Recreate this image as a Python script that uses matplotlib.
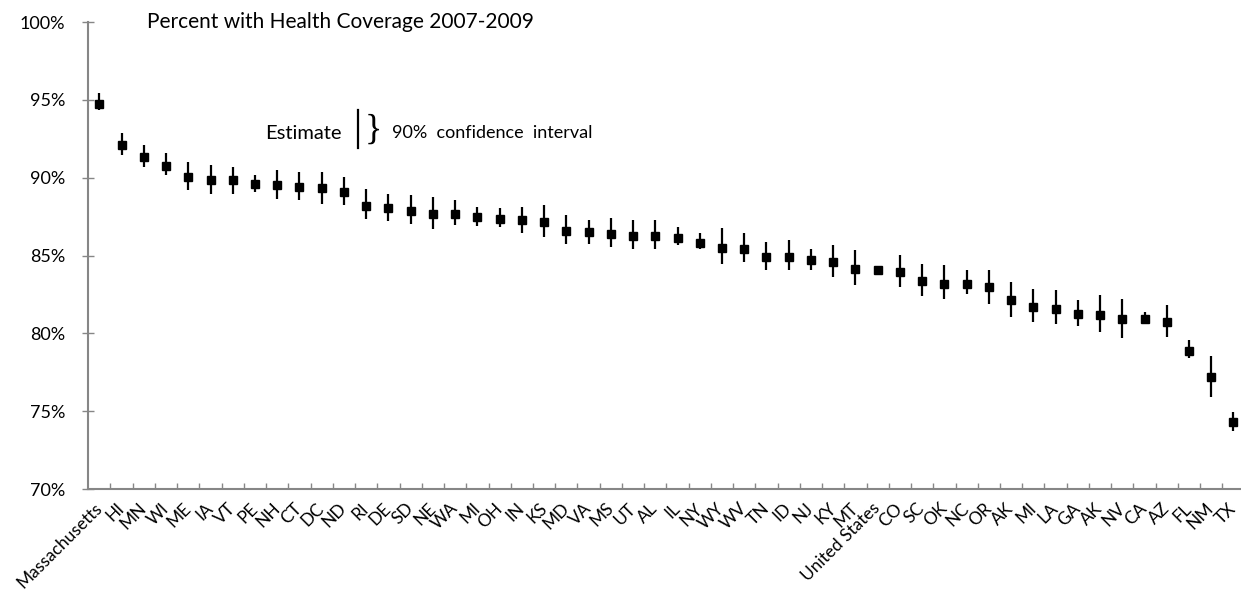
import matplotlib.pyplot as plt

#DATA:
States = ["Massachusetts", "HI", "MN", "WI", "ME", "IA", "VT", "PE", "NH", "CT",
          "DC", "ND", "RI", "DE", "SD", "NE", "WA", "MI", "OH", "IN",
          "KS", "MD", "VA", "MS", "UT", "AL", "IL", "NY", "WY", "WV",
          "TN", "ID", "NJ", "KY", "MT", "United States", "CO", "SC", "OK", "NC",
          "OR", "AK", "MI", "LA", "GA", "AK", "NV", "CA", "AZ", "FL",
          "NM", "TX"]
Estimate = [94.74, 92.12, 91.33, 90.75, 90.04, 89.83, 89.83, 89.62, 89.51, 89.40,
            89.34, 89.08, 88.19, 88.08, 87.87, 87.67, 87.67, 87.48, 87.37, 87.27,
            87.16, 86.60, 86.52, 86.41, 86.24, 86.24, 86.13, 85.83, 85.51, 85.43,
            84.92, 84.92, 84.72, 84.60, 84.17, 84.06, 83.95, 83.38, 83.19, 83.19,
            82.97, 82.16, 81.73, 81.56, 81.22, 81.18, 80.92, 80.92, 80.71, 78.89,
            77.22, 74.30]
Upper = [95.43, 92.87, 92.10, 91.58, 91.00, 90.80, 90.67, 90.15, 90.47, 90.37,
         90.37, 90.04, 89.28, 88.94, 88.87, 88.76, 88.57, 88.12, 88.06, 88.12,
         88.27, 87.59, 87.27, 87.42, 87.27, 87.27, 86.84, 86.45, 86.78, 86.45,
         85.88, 85.99, 85.41, 85.67, 85.35, 84.10, 85.03, 84.47, 84.38, 84.06,
         84.06, 83.31, 82.85, 82.78, 82.14, 82.46, 82.20, 81.39, 81.82, 79.60,
         78.57, 74.98]
Lower = [94.36, 91.47, 90.70, 90.19, 89.19, 88.97, 88.97, 89.08, 88.65, 88.55,
         88.33, 88.23, 87.37, 87.24, 87.05, 86.73, 86.99, 86.90, 86.84, 86.47,
         86.22, 85.77, 85.77, 85.56, 85.45, 85.45, 85.67, 85.45, 84.49, 84.60,
         84.06, 84.06, 84.06, 83.63, 83.10, 84.02, 83.00, 82.42, 82.24, 82.56,
         81.92, 81.03, 80.71, 80.64, 80.49, 80.11, 79.72, 80.64, 79.79, 78.40,
         75.90, 73.76]
YTicks = [70, 75, 80, 85, 90, 95, 100]

#GRAPHING:
plt.rcParams['font.family'] = ['Lato', 'DejaVu Sans']
fig = plt.figure(figsize=(12.41, 5.98), dpi=100)
ax = fig.add_axes([0.0711, 0.182, 0.9318, 0.781])
axis_gray = '#868686'

x = list(range(len(States)))
ax.vlines(x, Lower, Upper, color='black', linewidth=1.6)#confidence intervals
ax.plot(x, Estimate, 's', color='black', markersize=5.2)#estimates

#axes
ax.set_xlim(-0.5, len(States) - 0.5)
ax.set_ylim(70, 100)
ax.set_yticks(YTicks)
ax.set_yticklabels([str(t) + "%" for t in YTicks], fontsize=13)
ax.set_xticks(x)
#right-center of each name sits under its column (like excel)
ax.set_xticklabels(States, rotation=45, ha='right', va='center', rotation_mode='anchor',
                   fontsize=12.5)
ax.set_xticks([i - 0.5 for i in range(1, len(States) + 1)], minor=True)
ax.tick_params(axis='x', which='major', length=0, pad=12)
ax.tick_params(axis='x', which='minor', direction='in', length=4, color=axis_gray, width=1)
ax.tick_params(axis='y', direction='inout', length=9, color=axis_gray, width=1, pad=12)
for side in ['top', 'right']:
    ax.spines[side].set_visible(False)
for side in ['left', 'bottom']:
    ax.spines[side].set_color(axis_gray)
    ax.spines[side].set_linewidth(1.5)

#labels
ax.text(0.051, 1.0, "Percent with Health Coverage 2007-2009", transform=ax.transAxes,
        fontsize=15, va='center', ha='left')
ax.text(0.153, 0.762, "Estimate", transform=ax.transAxes, fontsize=14.5, va='center', ha='left')
ax.plot([0.2333, 0.2333], [0.730, 0.8116], transform=ax.transAxes, color='black',
        linewidth=1.6, clip_on=False)
ax.text(0.2392, 0.768, "}", transform=ax.transAxes, fontsize=26, va='center', ha='left',
        family='Liberation Serif')
ax.text(0.2627, 0.762, "90%  confidence  interval", transform=ax.transAxes, fontsize=13,
        va='center', ha='left')

plt.savefig("out.png", dpi=100)
